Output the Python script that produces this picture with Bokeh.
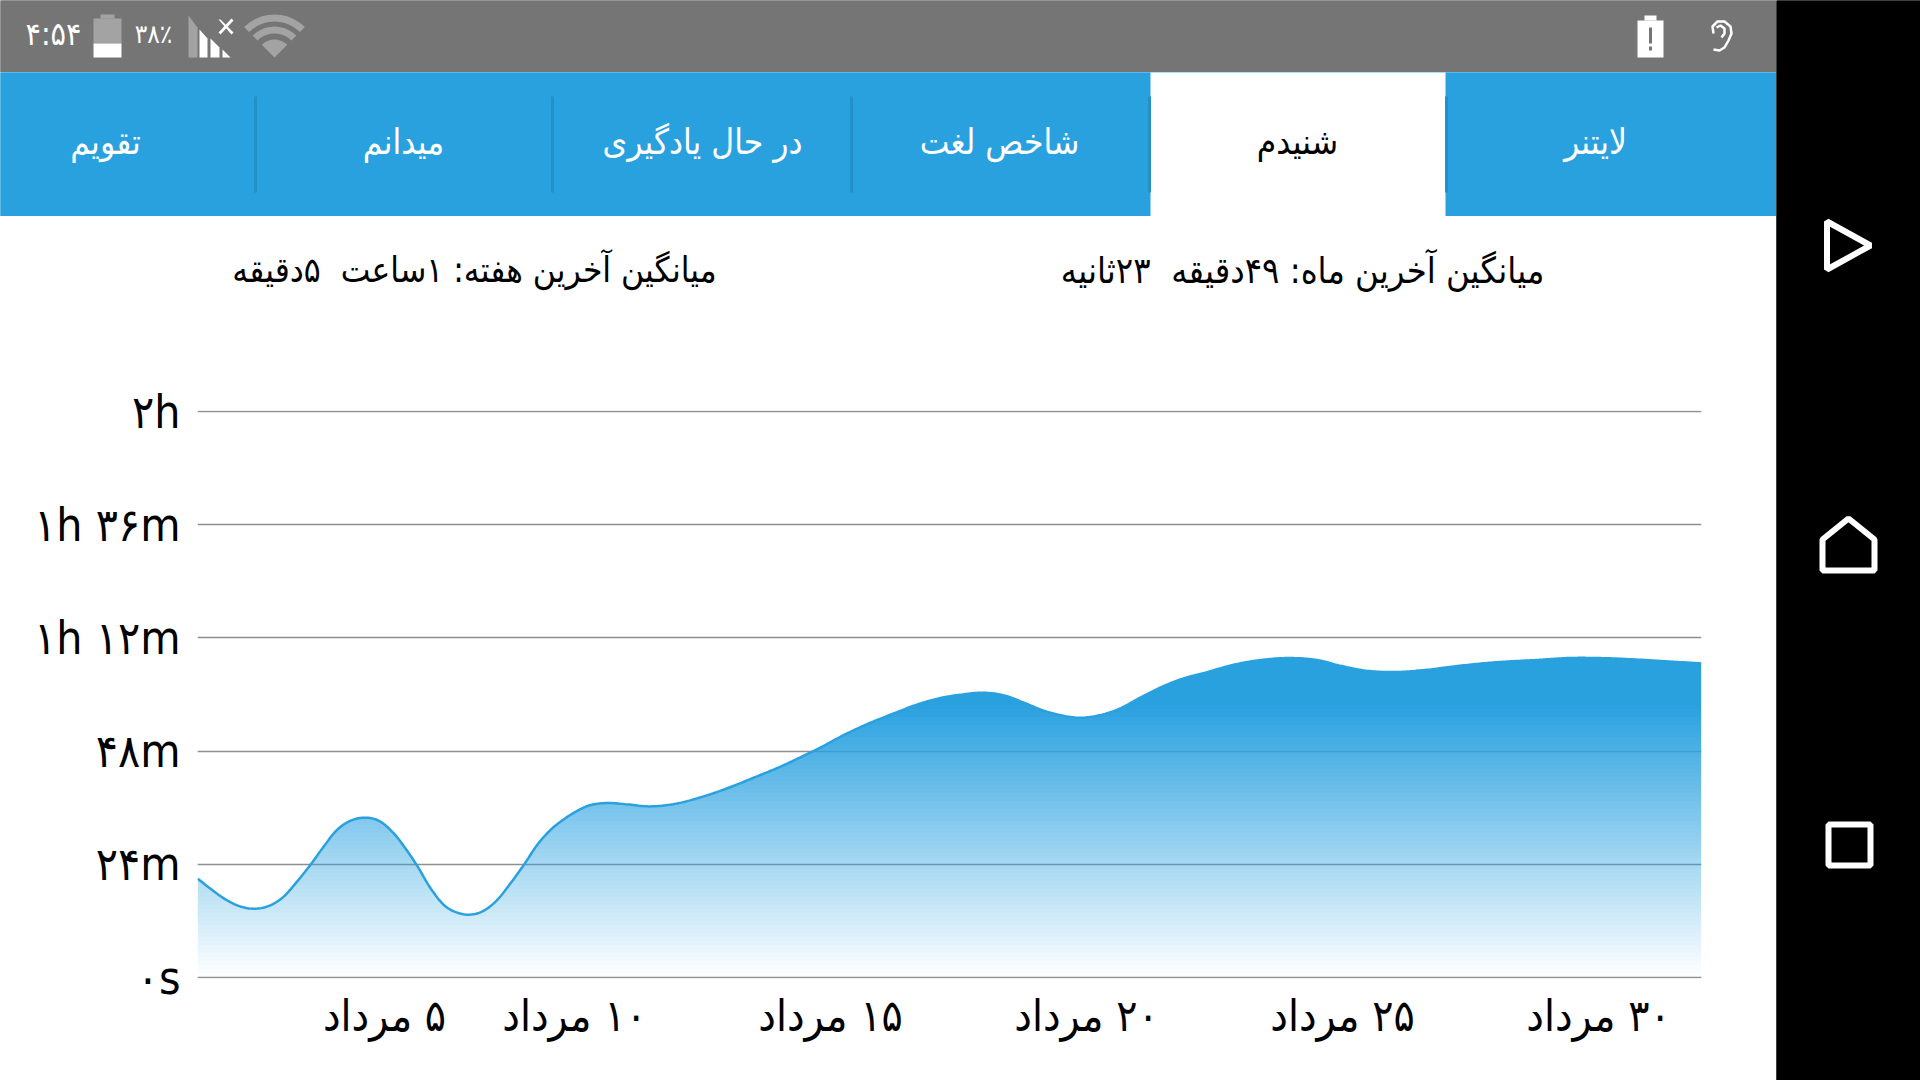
import math
import numpy as np
from bokeh.core.properties import value
from bokeh.embed import file_html
from bokeh.layouts import column, row
from bokeh.models import FixedTicker, Range1d
from bokeh.plotting import figure
from bokeh.resources import INLINE

# ---------- data ----------
days = [2.64, 2.89, 3.15, 3.41, 3.77, 4.06, 4.32, 4.58, 4.84, 5.10, 5.36, 5.63, 5.92, 6.21, 6.47,
        6.73, 6.93, 7.19, 7.45, 7.71, 7.94, 8.23, 8.49, 8.75, 9.01, 9.27, 9.53, 9.79, 9.99, 10.25,
        10.64, 11.03, 11.48, 11.94, 12.46, 12.98, 13.50, 14.02, 14.41, 14.81, 15.26, 15.72, 16.24,
        16.76, 17.21, 17.54, 17.99, 18.39, 18.78, 19.17, 19.43, 19.88, 20.27, 20.66, 21.06, 21.45,
        21.84, 22.36, 22.88, 23.40, 24.05, 24.51, 24.96, 25.48, 26.00, 26.59, 27.24, 27.89, 28.87,
        29.39, 30.04, 30.69, 31.34, 32.01]
minutes = [20.95, 18.84, 16.79, 15.30, 14.59, 15.30, 17.14, 20.32, 23.85, 27.74, 31.27, 33.25, 33.89,
           33.04, 30.56, 26.89, 23.64, 18.91, 15.37, 13.75, 13.32, 14.17, 16.43, 19.97, 23.85, 28.09,
           31.27, 33.53, 34.94, 36.35, 36.99, 36.70, 36.28, 36.77, 38.19, 40.10, 42.36, 44.69, 46.67,
           48.79, 51.40, 53.73, 56.00, 58.11, 59.39, 59.95, 60.37, 59.81, 58.26, 56.56, 55.78, 55.08,
           55.64, 57.05, 59.39, 61.51, 63.20, 64.76, 66.31, 67.30, 67.72, 67.30, 66.10, 65.04, 64.76,
           65.18, 66.03, 66.74, 67.37, 67.72, 67.72, 67.44, 67.02, 66.59]
y_ticks = [0, 24, 48, 72, 96, 120]
y_labels = ["۰s", "۲۴m", "۴۸m", "۱h ۱۲m", "۱h ۳۶m", "۲h"]
x_ticks = [6.29, 10, 15, 20, 25, 30]
x_labels = ["۵ مرداد", "۱۰ مرداد", "۱۵ مرداد", "۲۰ مرداد", "۲۵ مرداد", "۳۰ مرداد"]
tabs = ["تقویم", "میدانم", "در حال یادگیری", "شاخص لغت", "شنیدم", "لایتنر"]
avg_week = "میانگین آخرین هفته: ۱ساعت \u00a0۵دقیقه"
avg_month = "میانگین آخرین ماه: ۴۹دقیقه \u00a0۲۳ثانیه"

BLUE = "#29a1df"
GRAY = "#757575"
LIGHT = "#a3a3a3"
FONT = "DejaVu Sans Condensed"
PX_PER_MIN = 566 / 120


def smooth(xs, ys, fx):
    """Hermite curve through the read values, the way the original chart rounds its line."""
    xs, ys = np.asarray(xs), np.asarray(ys)
    m = np.gradient(ys, xs)
    i = np.clip(np.searchsorted(xs, fx) - 1, 0, len(xs) - 2)
    h = xs[i + 1] - xs[i]
    t = (fx - xs[i]) / h
    return ((2 * t**3 - 3 * t**2 + 1) * ys[i] + (t**3 - 2 * t**2 + t) * h * m[i]
            + (-2 * t**3 + 3 * t**2) * ys[i + 1] + (t**3 - t**2) * h * m[i + 1])


def panel(x0, y0, w, h, bg):
    f = figure(width=w, height=h, output_backend="svg", toolbar_location=None,
               x_range=Range1d(x0, x0 + w), y_range=Range1d(y0 + h, y0),
               x_axis_type=None, y_axis_type=None,
               min_border=0, min_border_left=0, min_border_right=0, min_border_top=0, min_border_bottom=0)
    f.outline_line_alpha = 0
    f.grid.visible = False
    f.background_fill_color = bg
    f.border_fill_color = bg
    f.quad(left=[x0 - 2], right=[x0 + w + 2], top=[y0 - 2], bottom=[y0 + h + 2], fill_color=bg, line_alpha=0)
    return f


def box(f, l, t, r, b, color):
    f.quad(left=[l], right=[r], top=[t], bottom=[b], fill_color=color, line_alpha=0)


def label(f, x, y, s, size, color="#000000"):
    f.text(x=[x], y=[y], text=[s], text_align="center", text_baseline="middle", text_color=color,
           text_font=value(FONT), text_font_size=value(size))


def poly(f, pts, fill=None, line=None, width=1):
    xs = [a for a, _ in pts]
    ys = [b for _, b in pts]
    f.patch(xs, ys, fill_color=fill or "white", fill_alpha=1 if fill else 0,
            line_color=line or "white", line_alpha=1 if line else 0, line_width=width)


# ---------- status bar ----------
status = panel(0, 0, 1776, 72, GRAY)
label(status, 53, 33, "۴:۵۴", "32px", "#ffffff")
box(status, 100, 14, 114, 18, LIGHT)
box(status, 93, 18, 121, 43, LIGHT)
box(status, 93, 43, 121, 57, "#ffffff")
label(status, 153, 33, "۳۸٪", "26px", "#ffffff")
poly(status, [(188, 15), (197, 27), (197, 57), (188, 57)], fill=LIGHT)
poly(status, [(199, 29), (207, 38), (207, 57), (199, 57)], fill="#ffffff")
poly(status, [(210, 38), (219, 47), (219, 57), (210, 57)], fill="#ffffff")
poly(status, [(222, 49), (230, 57), (222, 57)], fill="#ffffff")
poly(status, [(218, 19), (220, 19), (233, 32), (231, 34)], fill="#ffffff")
poly(status, [(231, 18), (233, 20), (220, 34), (218, 32)], fill="#ffffff")


def fan(r0, r1):
    ang = [math.radians(a) for a in range(-45, 46, 9)]
    out = [(274 + r1 * math.sin(a), 57 - r1 * math.cos(a)) for a in ang]
    inn = [(274 + r0 * math.sin(a), 57 - r0 * math.cos(a)) for a in reversed(ang)]
    return out + inn


poly(status, fan(36, 43), fill=LIGHT)
poly(status, fan(24, 31), fill=LIGHT)
poly(status, fan(0, 18), fill=LIGHT)

box(status, 1644, 15, 1656, 20, "#ffffff")
box(status, 1637, 20, 1663, 57, "#ffffff")
box(status, 1648.5, 27, 1651.5, 43, GRAY)
box(status, 1648.5, 46, 1651.5, 50, GRAY)
ear = [(1713, 33), (1712, 26), (1717, 21), (1724, 21), (1730, 26), (1731, 33), (1728, 40), (1724, 47),
       (1719, 50), (1713, 49), (1719, 50), (1724, 47), (1728, 40), (1731, 33), (1730, 26), (1724, 21),
       (1717, 21), (1712, 26)]
poly(status, ear, line="#ffffff", width=2.5)
ear2 = [(1716, 27), (1720, 25), (1724, 28), (1724, 33), (1721, 37), (1724, 33), (1724, 28), (1720, 25)]
poly(status, ear2, line="#ffffff", width=2.5)

# ---------- tabs ----------
tabbar = panel(0, 72, 1776, 144, BLUE)
box(tabbar, 1150, 70, 1445, 218, "#ffffff")
for dx in [255, 552, 851, 1149, 1446]:
    box(tabbar, dx - 1.5, 96, dx + 1.5, 192, "#2390c8")
for tx, s in zip([105, 403, 702, 999, 1297, 1595], tabs):
    label(tabbar, tx, 141, s, "35px", "#000000" if s == "شنیدم" else "#ffffff")

# ---------- averages ----------
head = panel(0, 216, 1776, 150, "#ffffff")
label(head, 474, 269.5, avg_week, "35px")
label(head, 1302, 269.5, avg_month, "36px")

# ---------- chart ----------
p = figure(width=1776, height=714, output_backend="svg", toolbar_location=None,
           x_range=Range1d(2.637, 32.012), y_range=Range1d(-1 / PX_PER_MIN, 120 + 1 / PX_PER_MIN),
           min_border_left=197, min_border_right=75, min_border_top=44, min_border_bottom=102)
p.outline_line_alpha = 0
p.background_fill_color = "white"
p.border_fill_color = "white"
p.xgrid.visible = False
p.ygrid.grid_line_color = "#8f8f8f"
p.ygrid.grid_line_width = 1.5
p.ygrid.ticker = FixedTicker(ticks=y_ticks)

p.yaxis.ticker = FixedTicker(ticks=y_ticks)
p.yaxis.major_label_overrides = dict(zip(y_ticks, y_labels))
p.yaxis.major_label_text_font = FONT
p.yaxis.major_label_text_font_size = "46px"
p.yaxis.major_label_text_color = "#000000"
p.yaxis.major_label_standoff = 11
p.xaxis.ticker = FixedTicker(ticks=x_ticks)
p.xaxis.major_label_overrides = {t: "\u200f" + s for t, s in zip(x_ticks, x_labels)}
p.xaxis.major_label_text_font = FONT
p.xaxis.major_label_text_font_size = "44px"
p.xaxis.major_label_text_color = "#000000"
p.xaxis.major_label_standoff = 5
for ax in (p.xaxis, p.yaxis):
    ax.axis_line_alpha = 0
    ax.major_tick_line_alpha = 0
    ax.minor_tick_line_alpha = 0

# gradient area: alpha strips clipped by the curve, drawn on the plot's scales
strip = 4
fine_x = np.linspace(days[0], days[-1], 760)
fine_y = smooth(days, minutes, fine_x)
top_px = int(max(minutes) * PX_PER_MIN) + strip
for k in range(0, top_px, strip):
    lo = (k + 0.5) / PX_PER_MIN
    hi = (k + strip + 0.5) / PX_PER_MIN
    a = min(1.0, (k + strip / 2) / 272)
    p.varea(fine_x, np.minimum(fine_y, lo), np.minimum(fine_y, hi), fill_color=BLUE, fill_alpha=a)
p.line(fine_x, fine_y, line_color=BLUE, line_width=2.5)

# ---------- navigation bar ----------
nav = panel(1776, 0, 144, 1080, "#000000")
poly(nav, [(1826.5, 221), (1870, 245), (1826.5, 269)], line="#ffffff", width=6)
poly(nav, [(1822, 570), (1822, 539), (1848, 518), (1874, 539), (1874, 570)], line="#ffffff", width=6)
poly(nav, [(1828, 824), (1870, 824), (1870, 865), (1828, 865)], line="#ffffff", width=6)

page = row(column(column(status), column(tabbar), column(head), column(p), spacing=0), nav, spacing=0)
open("out.html", "w").write(file_html(page, INLINE))
